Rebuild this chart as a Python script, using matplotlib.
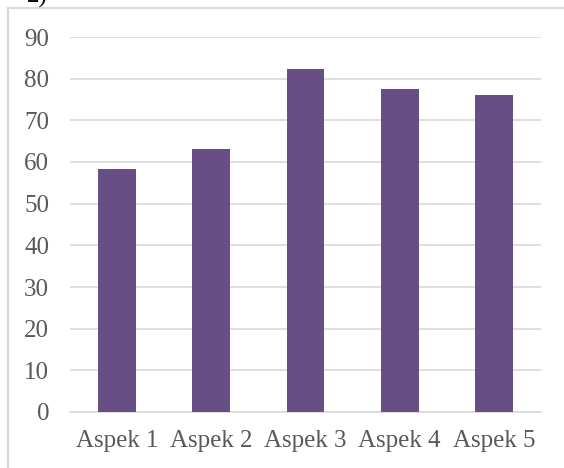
import matplotlib.pyplot as plt
from matplotlib.patches import Rectangle

categories = ['Aspek 1', 'Aspek 2', 'Aspek 3', 'Aspek 4', 'Aspek 5']
values = [58.3, 63.1, 82.3, 77.6, 76.1]
yticks = [0, 10, 20, 30, 40, 50, 60, 70, 80, 90]

plt.rcParams['font.family'] = ['Liberation Serif', 'DejaVu Serif']

W, H = 564, 468
fig = plt.figure(figsize=(W / 100, H / 100), dpi=100)
fig.patch.set_facecolor('white')

# outer chart frame (runs past the right and bottom edges)
fig.patches.append(Rectangle((8 / W, -0.1), 1.2, 1 - 8 / H + 0.1,
                             transform=fig.transFigure, fill=False,
                             edgecolor='#D9D9D9', linewidth=1.5))

# clipped caption at the very top
fig.text(27 / W, 1 - 3 / H, '2)', fontsize=18, color='black',
         va='baseline', ha='left')

ax = fig.add_axes([70 / W, 1 - 412 / H, (541 - 70) / W, (412 - 37) / H])
x = range(len(categories))
ax.bar(x, values, width=0.4, color='#674F86', zorder=3)

ax.set_xlim(-0.5, len(categories) - 0.5)
ax.set_ylim(0, 90)
ax.set_yticks(yticks)
ax.set_xticks(list(x))
ax.set_xticklabels(categories)
ax.grid(axis='y', color='#D9D9D9', linewidth=1.2, zorder=0)
ax.tick_params(axis='both', length=0, labelsize=18, colors='#595959')
ax.tick_params(axis='y', pad=15)
ax.tick_params(axis='x', pad=13)
for s in ax.spines.values():
    s.set_visible(False)
ax.spines['bottom'].set_visible(True)
ax.spines['bottom'].set_color('#D9D9D9')
ax.spines['bottom'].set_linewidth(1.2)

fig.savefig('out.png', dpi=100)
